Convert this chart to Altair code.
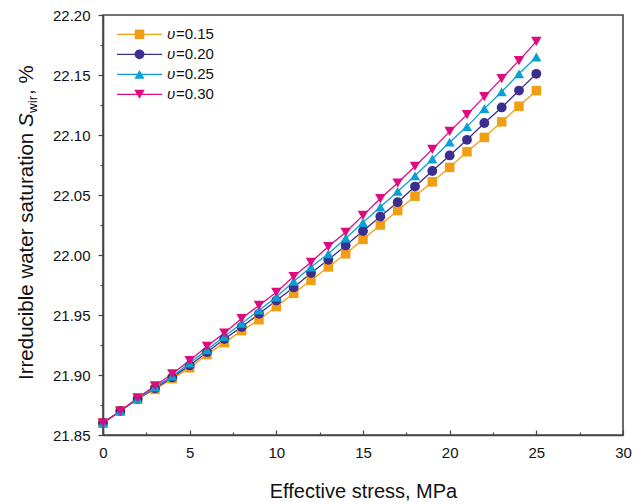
import altair as alt
import pandas as pd

stress = list(range(0, 26))
series_names = ["υ=0.15", "υ=0.20", "υ=0.25", "υ=0.30"]
s015 = [21.860, 21.870, 21.880, 21.888, 21.897, 21.906, 21.917, 21.927, 21.937, 21.946,
        21.957, 21.968, 21.979, 21.990, 22.001, 22.013, 22.025, 22.037, 22.049, 22.061,
        22.073, 22.086, 22.098, 22.111, 22.124, 22.137]
s020 = [21.860, 21.870, 21.880, 21.889, 21.898, 21.908, 21.919, 21.930, 21.940, 21.951,
        21.962, 21.973, 21.985, 21.996, 22.008, 22.020, 22.032, 22.044, 22.057, 22.070,
        22.083, 22.096, 22.110, 22.123, 22.137, 22.151]
s025 = [21.860, 21.870, 21.880, 21.890, 21.899, 21.910, 21.921, 21.932, 21.943, 21.954,
        21.965, 21.978, 21.990, 22.001, 22.014, 22.027, 22.040, 22.053, 22.066, 22.080,
        22.094, 22.107, 22.122, 22.136, 22.151, 22.165]
s030 = [21.860, 21.870, 21.881, 21.891, 21.901, 21.912, 21.924, 21.935, 21.947, 21.958,
        21.969, 21.982, 21.994, 22.007, 22.019, 22.033, 22.047, 22.060, 22.074, 22.088,
        22.103, 22.117, 22.132, 22.147, 22.162, 22.178]
colors = ["#F29E13", "#3B2E8F", "#0BA0D3", "#DD0A80"]
marker_shapes = ["square", "circle", "triangle-up", "triangle-down"]
marker_sizes = [90, 110, 150, 150]

x_major = [0, 5, 10, 15, 20, 25, 30]
x_ticks = [i * 2.5 for i in range(13)]
y_ticks = [round(21.85 + 0.025 * i, 3) for i in range(15)]

rows = []
for name, vals in zip(series_names, [s015, s020, s025, s030]):
    for x, v in zip(stress, vals):
        rows.append({"stress": x, "swir": v, "series": name})
df = pd.DataFrame(rows)
legend_df = pd.DataFrame({"series": series_names})

FONT = "Liberation Sans"
AX = "#4a4444"

color = alt.Color("series:N", scale=alt.Scale(domain=series_names, range=colors), legend=None)
shape = alt.Shape("series:N", scale=alt.Scale(domain=series_names, range=marker_shapes), legend=None)
size = alt.Size("series:N", scale=alt.Scale(domain=series_names, range=marker_sizes), legend=None)

MAJOR_Y = "abs(datum.value*20 - round(datum.value*20)) < 0.001"
yaxis = alt.Axis(
    orient="left", values=y_ticks, title=None, grid=False,
    labelExpr=MAJOR_Y + " ? format(datum.value, '.2f') : ''",
    tickSize={"condition": {"test": MAJOR_Y, "value": 5}, "value": 3},
    tickColor=AX, tickWidth=1.2, domainColor=AX, domainWidth=1.6,
    labelFontSize=15, labelFont=FONT, labelColor="#111", labelPadding=8,
)
yscale = alt.Scale(domain=[21.85, 22.20], nice=False, zero=False)
xscale = alt.Scale(domain=[0, 30], nice=False)

lines = alt.Chart(df).mark_line(strokeWidth=1.3).encode(
    x=alt.X("stress:Q", scale=xscale, axis=alt.Axis(
        orient="bottom", values=x_major, ticks=False, grid=False,
        domainColor=AX, domainWidth=1.6, labelFontSize=15, labelFont=FONT,
        labelColor="#111", labelPadding=10, labelFlush=False,
        title="Effective stress, MPa", titleFontSize=20, titleFont=FONT,
        titleFontWeight="normal", titleColor="#111", titlePadding=21)),
    y=alt.Y("swir:Q", scale=yscale, axis=yaxis),
    color=color,
    detail="series:N",
)

points = alt.Chart(df).mark_point(filled=True, opacity=1, strokeWidth=0).encode(
    x=alt.X("stress:Q", scale=xscale, axis=alt.Axis(
        orient="top", offset=-420, values=x_ticks, labels=False, domain=False,
        grid=False, title=None, tickColor=AX, tickWidth=1.2,
        tickSize={"condition": {"test": "datum.value % 5 === 0", "value": 5}, "value": 3})),
    y=alt.Y("swir:Q", scale=yscale, axis=yaxis),
    color=color,
    shape=shape,
    size=size,
)

data_layer = alt.layer(lines, points).resolve_axis(x="independent")

# legend drawn from the series list, rows placed by a point scale
ly = alt.Y("series:N", scale=alt.Scale(type="point", domain=series_names, range=[19.3, 79.3], padding=0), axis=None)
leg_line = alt.Chart(legend_df).mark_rule(strokeWidth=1.3).encode(
    x=alt.value(14), x2=alt.value(59), y=ly, color=color)
leg_pt = alt.Chart(legend_df).mark_point(filled=True, opacity=1, strokeWidth=0).encode(
    x=alt.value(36.5), y=ly, color=color, shape=shape, size=size)
leg_sym = alt.Chart(legend_df).transform_calculate(sym="substring(datum.series, 0, 1)").mark_text(
    align="left", baseline="middle", fontSize=15, font=FONT, fontStyle="italic", color="#111").encode(
    x=alt.value(64), y=ly, text="sym:N")
leg_txt = alt.Chart(legend_df).transform_calculate(rest="substring(datum.series, 1)").mark_text(
    align="left", baseline="middle", fontSize=15, font=FONT, color="#111").encode(
    x=alt.value(73), y=ly, text="rest:N")
legend_layer = alt.layer(leg_line, leg_pt, leg_sym, leg_txt)


def ytext(txt, x, y, fsize, style="normal"):
    return alt.Chart(pd.DataFrame({"t": [txt]})).mark_text(
        angle=270, align="left", baseline="alphabetic", fontSize=fsize,
        font=FONT, fontStyle=style, color="#111",
    ).encode(x=alt.value(x), y=alt.value(y), text="t:N")


title_parts = [
    ytext("Irreducible water saturation ", -70, 365, 20.5),
    ytext("S", -70, 112, 20.5, "italic"),
    ytext("wir", -66, 98, 13.5),
    ytext(", %", -70, 80, 20.5),
]

chart = alt.layer(data_layer, legend_layer, *title_parts).resolve_scale(y="independent").properties(
    width=520, height=420,
    autosize=alt.AutoSizeParams(type="none"),
    padding={"left": 95, "top": 7, "right": 13, "bottom": 69},
).configure_view(stroke=AX, strokeWidth=1.6)

chart.save("out.html", embed_options={"renderer": "svg", "actions": False})
